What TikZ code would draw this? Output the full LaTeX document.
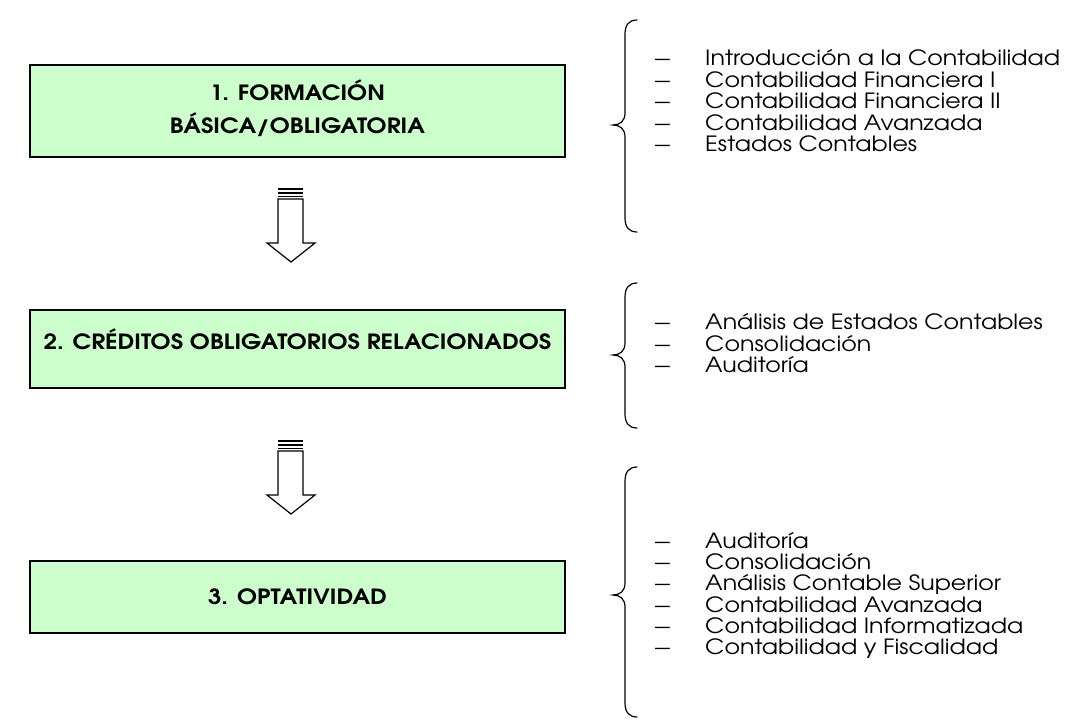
\documentclass[tikz,border=0pt]{standalone}
\usepackage{fontspec}
\setmainfont{TeX Gyre Adventor}
\newfontfamily\listfont{TeX Gyre Adventor}[FakeStretch=1.13]
\newfontfamily\boxfont{TeX Gyre Adventor}[FakeStretch=1.14]
\usetikzlibrary{shadows}
\definecolor{boxgreen}{RGB}{204,255,204}
\definecolor{shadowgray}{RGB}{150,150,150}
\begin{document}
\begin{tikzpicture}[x=1pt,y=-1pt,
  stagebox/.style={draw=black, line width=1.4pt, fill=boxgreen, minimum width=535pt,
    inner sep=0pt, align=center, font=\boxfont\bfseries\fontsize{21}{33}\selectfont,
    drop shadow={shadow xshift=1.2pt, shadow yshift=-1.2pt, fill=shadowgray, opacity=1}},
  itemlist/.style={anchor=base west, inner sep=0pt, align=left,
    font=\listfont\fontsize{21}{21.5}\selectfont},
  bracepath/.style={line width=1.2pt, line cap=round},
  blockarrow/.style={draw=black, line width=1.2pt, fill=white, line join=miter},
  arrowbar/.style={draw=black, line cap=butt}]
\useasboundingbox (0,0) rectangle (1067,725);

% stage boxes
\node[stagebox, minimum height=92pt, text height=49pt, text depth=5pt] (b1) at (297.5,111) {1. FORMACIÓN\\BÁSICA/OBLIGATORIA};
\node[stagebox, minimum height=78pt, text height=8pt, text depth=8pt] (b2) at (297.5,349) {2. CRÉDITOS OBLIGATORIOS RELACIONADOS};
\node[stagebox, minimum height=72pt, text height=15pt, text depth=0.4pt] (b3) at (297.5,597) {3. OPTATIVIDAD};

% block arrows
\foreach \dy/\nm in {0/a1, 252/a2} {
  \begin{scope}[shift={(0,\dy)}]
    \coordinate (\nm) at (291,262);
    \draw[blockarrow] (278,199) -- (278,243) -- (267,243) -- (291,262) -- (315,243) -- (303,243) -- (303,199) -- cycle;
    \draw[arrowbar, line width=2pt] (278,189) -- (303,189);
    \draw[arrowbar, line width=2pt] (278,192.8) -- (303,192.8);
    \draw[arrowbar, line width=1.3pt] (278,196.3) -- (303,196.3);
  \end{scope}
}

% braces
\newcommand{\mybrace}[3]{% top, middle, bottom
  \draw[bracepath] (637,#1) .. controls (629,#1) and (625,#1+5) .. (625,#1+14)
    -- (625,#2-12) .. controls (625,#2-4) and (620,#2) .. (613,#2)
    .. controls (620,#2) and (625,#2+4) .. (625,#2+12)
    -- (625,#3-14) .. controls (625,#3-5) and (629,#3) .. (637,#3);}
\mybrace{20}{125}{232}
\mybrace{283}{355}{428}
\mybrace{467}{595}{717}

% item lists (anchored at the baseline of the last line)
\newcommand{\itm}[1]{\makebox[50pt][l]{\scalebox{1.25}[1]{–}}#1}
\node[itemlist] (l1) at (655,151.5) {\itm{Introducción a la Contabilidad}\\\itm{Contabilidad Financiera I}\\\itm{Contabilidad Financiera II}\\\itm{Contabilidad Avanzada}\\\itm{Estados Contables}};
\node[itemlist] (l2) at (655,372.5) {\itm{Análisis de Estados Contables}\\\itm{Consolidación}\\\itm{Auditoría}};
\node[itemlist, font=\listfont\fontsize{21}{21.2}\selectfont] (l3) at (655,654.5) {\itm{Auditoría}\\\itm{Consolidación}\\\itm{Análisis Contable Superior}\\\itm{Contabilidad Avanzada}\\\itm{Contabilidad Informatizada}\\\itm{Contabilidad y Fiscalidad}};
\end{tikzpicture}
\end{document}
